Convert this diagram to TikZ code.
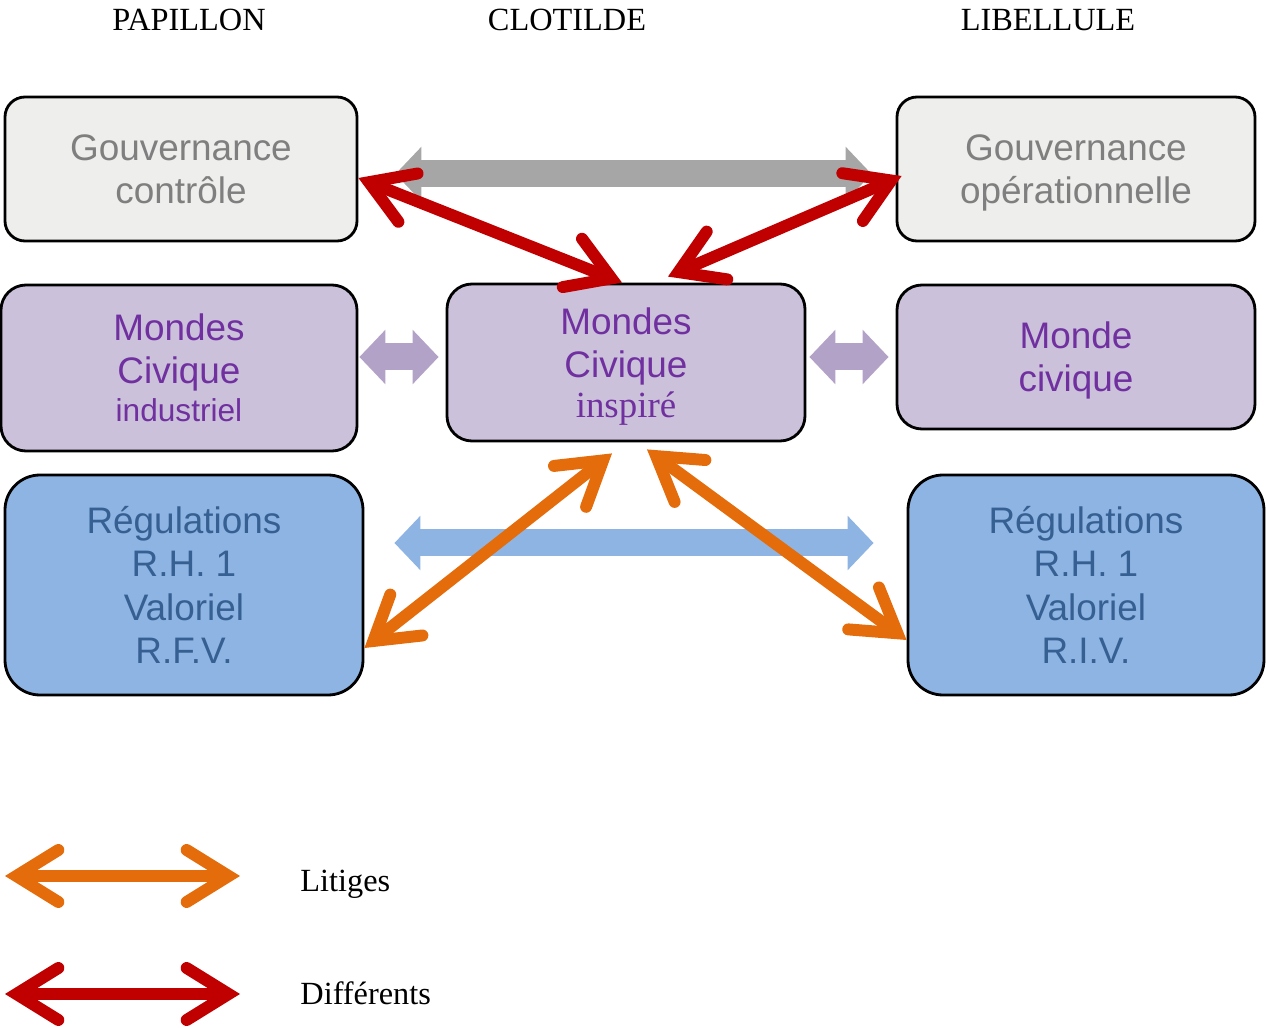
\documentclass[tikz,border=0pt]{standalone}
\usepackage{fontspec}
\setmainfont{Liberation Serif}
\setsansfont{Liberation Sans}
\usepackage{xcolor}
\usetikzlibrary{arrows.meta,calc}
\definecolor{govfill}{HTML}{EEEEEC}
\definecolor{govtext}{HTML}{7F7F7F}
\definecolor{lilac}{HTML}{CCC1DA}
\definecolor{lilacarr}{HTML}{B3A2C7}
\definecolor{purpletext}{HTML}{7030A0}
\definecolor{bluefill}{HTML}{8EB4E3}
\definecolor{bluetext}{HTML}{376092}
\definecolor{redarr}{HTML}{C00000}
\definecolor{orangearr}{HTML}{E46C0A}
\definecolor{grayarr}{HTML}{A6A6A6}
\tikzset{
  gbox/.style={draw=black,line width=0.8pt,fill=govfill,text=govtext,rounded corners=0.2cm,align=center,
    font=\sffamily\fontsize{10.5pt}{12.3pt}\selectfont,minimum height=1.44cm},
  mbox/.style={draw=black,line width=0.8pt,fill=lilac,text=purpletext,rounded corners=0.25cm,align=center,
    font=\sffamily\fontsize{10.5pt}{12.3pt}\selectfont},
  rbox/.style={draw=black,line width=0.8pt,fill=bluefill,text=bluetext,rounded corners=0.35cm,align=center,
    font=\sffamily\fontsize{10.5pt}{12.3pt}\selectfont,minimum width=3.58cm,minimum height=2.2cm},
  head/.style={font=\fontsize{9.2pt}{11pt}\selectfont},
  barb/.tip={Straight Barb[length=4.2mm,width=5.2mm,line cap=round,line join=miter]},
  redlink/.style={barb-barb,line width=3.4pt,draw=redarr},
  orlink/.style={barb-barb,line width=3.4pt,draw=orangearr},
  fat/.style={{Triangle[length=0.26cm,width=0.53cm]}-{Triangle[length=0.26cm,width=0.53cm]},line width=0.27cm}
}
\begin{document}
\begin{tikzpicture}[x=1cm,y=1cm]
  \useasboundingbox (0,0) rectangle (12.66,-10.28);
  % column titles
  \node[head] (tpap) at (1.89,-0.20) {PAPILLON};
  \node[head] (tclo) at (5.67,-0.20) {CLOTILDE};
  \node[head] (tlib) at (10.48,-0.20) {LIBELLULE};
  % boxes
  \node[gbox,minimum width=3.52cm] (gctrl) at (1.81,-1.69) {Gouvernance\\contrôle};
  \node[gbox,minimum width=3.58cm,text depth=-0.02cm] (gope) at (10.76,-1.69) {Gouvernance\\opérationnelle};
  \node[mbox,minimum width=3.56cm,minimum height=1.66cm] (mind) at (1.79,-3.68)
    {Mondes\\Civique\\[-0.05cm]{\fontsize{9pt}{10pt}\selectfont industriel}};
  \node[mbox,minimum width=3.58cm,minimum height=1.57cm,text depth=-0.1cm] (mins) at (6.26,-3.625)
    {Mondes\\Civique\\[-0.03cm]{\rmfamily inspiré}};
  \node[mbox,minimum width=3.58cm,minimum height=1.44cm,text depth=0pt] (mciv) at (10.76,-3.57) {Monde\\civique};
  \node[rbox] (regl) at (1.84,-5.85) {Régulations\\R.H. 1\\Valoriel\\R.F.V.};
  \node[rbox,minimum width=3.56cm] (regr) at (10.86,-5.85) {Régulations\\R.H. 1\\Valoriel\\R.I.V.};
  % wide arrows
  \draw[fat,draw=grayarr,fill=grayarr,shorten <=0.37cm,shorten >=0.24cm]
    ([yshift=-0.05cm]gctrl.east) -- ([yshift=-0.05cm]gope.west);
  \draw[fat,draw=bluefill,fill=bluefill,shorten <=0.3cm,shorten >=0.33cm]
    ([yshift=0.42cm]regl.east) -- ([yshift=0.42cm]regr.west);
  \draw[fat,draw=lilacarr,fill=lilacarr,shorten <=0.01cm,shorten >=0.07cm]
    (mind.east |- mciv.west) -- (mins.west |- mciv.west);
  \draw[fat,draw=lilacarr,fill=lilacarr,shorten <=0.03cm,shorten >=0.07cm]
    (mins.east |- mciv.west) -- (mciv.west);
  % litiges and differents
  \draw[redlink] ([yshift=-0.09cm]gctrl.east) -- ([xshift=-0.04cm]mins.north);
  \draw[redlink] ([xshift=0.42cm,yshift=0.06cm]mins.north) -- ([xshift=0.06cm,yshift=-0.07cm]gope.west);
  \draw[orlink] ([xshift=-0.14cm,yshift=-0.11cm]mins.south) -- ([yshift=-0.63cm]regl.east);
  \draw[orlink] ([xshift=0.21cm,yshift=-0.07cm]mins.south) -- ([yshift=-0.55cm]regr.west);
  % legend
  \coordinate (lgoa) at (0.05,-8.76);
  \coordinate (lgob) at (2.40,-8.76);
  \coordinate (lgra) at (0.05,-9.94);
  \coordinate (lgrb) at (2.40,-9.94);
  \draw[orlink] (lgoa) -- (lgob);
  \draw[redlink] (lgra) -- (lgrb);
  \node[head,anchor=west] (llit) at (2.88,-8.84) {Litiges};
  \node[head,anchor=west] (ldif) at (2.88,-9.93) {Différents};
\end{tikzpicture}
\end{document}
